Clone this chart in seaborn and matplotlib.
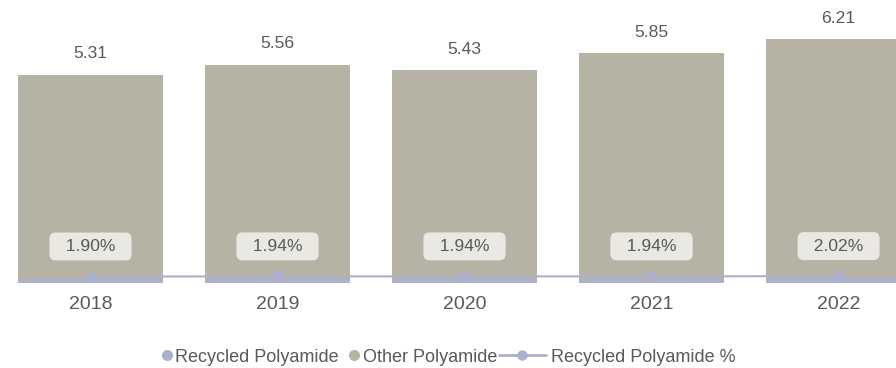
import numpy as np
import pandas as pd
import matplotlib
matplotlib.use("Agg")
import matplotlib.pyplot as plt
from matplotlib.lines import Line2D
import seaborn as sns

# Polyamide volumes (million tonnes) and recycled share per year
years = ["2018", "2019", "2020", "2021", "2022"]
recycled = [0.101, 0.108, 0.105, 0.113, 0.125]
other = [5.209, 5.452, 5.325, 5.737, 6.085]
recycled_pct = [0.0190, 0.0194, 0.0194, 0.0194, 0.0202]

OTHER_C = "#b6b3a5"
RECYC_C = "#abb1cd"
TEXT_C = "#595959"
BOX_C = "#e9e8e3"

sns.set_theme(style="white")
plt.rcParams["font.family"] = ["Liberation Sans", "DejaVu Sans"]

df = pd.DataFrame({
    "year": years,
    "recycled": recycled,
    "other": other,
    "pct": recycled_pct,
})
df["total"] = df["recycled"] + df["other"]

fig = plt.figure(figsize=(8.96, 3.68), dpi=100)
ax = fig.add_axes([0, 85 / 368, 1, 283 / 368])

# Stacked bars: full total in the "other" colour, recycled part on the bottom
bar_kw = dict(width=0.775, saturation=1, linewidth=0, edgecolor="none")
sns.barplot(data=df, x="year", y="total", color=OTHER_C, ax=ax, zorder=2, **bar_kw)
sns.barplot(data=df, x="year", y="recycled", color=RECYC_C, ax=ax, zorder=3, **bar_kw)

for i, t in enumerate(df["total"]):
    ax.annotate(f"{t:.2f}", xy=(i, t), xytext=(0, 15), textcoords="offset points",
                ha="center", va="center", fontsize=12.6, color=TEXT_C)

ax.set_ylim(0, 7.21)
ax.set_xlabel("")
ax.set_ylabel("")
ax.set_yticks([])
ax.tick_params(axis="x", length=0, pad=9.5, labelsize=14, labelcolor=TEXT_C)
for s in ax.spines.values():
    s.set_visible(False)

# Recycled share on a secondary axis
ax2 = ax.twinx()
xs = np.arange(len(years))
sns.lineplot(x=xs, y=df["pct"], ax=ax2, color=RECYC_C, linewidth=1.5,
             marker="o", markersize=8, markeredgewidth=0, zorder=4)
for i, p in enumerate(df["pct"]):
    ax2.annotate(f"  {p * 100:.2f}%  ", xy=(i, p), xytext=(0, 21.6),
                 textcoords="offset points", ha="center", va="center",
                 fontsize=12.6, color=TEXT_C, zorder=5,
                 bbox=dict(boxstyle="round,pad=0.37,rounding_size=0.35",
                           fc=BOX_C, ec="none"))
ax2.set_ylim(0, 0.83)
ax2.set_yticks([])
ax2.set_ylabel("")
for s in ax2.spines.values():
    s.set_visible(False)

ax.set_xlim(-0.484, 4.307)
ax2.set_xlim(-0.484, 4.307)

# Legend: two circle entries followed by the line entry
h1 = [Line2D([], [], marker="o", linestyle="none", markersize=8,
             markeredgewidth=0, color=RECYC_C),
      Line2D([], [], marker="o", linestyle="none", markersize=8,
             markeredgewidth=0, color=OTHER_C)]
leg1 = fig.legend(h1, ["Recycled Polyamide", "Other Polyamide"], ncol=2,
                  loc="center right", bbox_to_anchor=(497 / 896, 11 / 368),
                  frameon=False, fontsize=13, handlelength=0.61,
                  handletextpad=0.15, columnspacing=0.55, borderpad=0,
                  borderaxespad=0, labelcolor=TEXT_C)
h2 = [Line2D([], [], marker="o", markersize=7.5, markeredgewidth=0,
             color=RECYC_C, linewidth=2)]
leg2 = fig.legend(h2, ["Recycled Polyamide %"], loc="center left",
                  bbox_to_anchor=(499 / 896, 11 / 368), frameon=False,
                  fontsize=13, handlelength=2.6, handletextpad=0.28,
                  borderpad=0, borderaxespad=0, labelcolor=TEXT_C)

fig.savefig("out.png", dpi=100)
